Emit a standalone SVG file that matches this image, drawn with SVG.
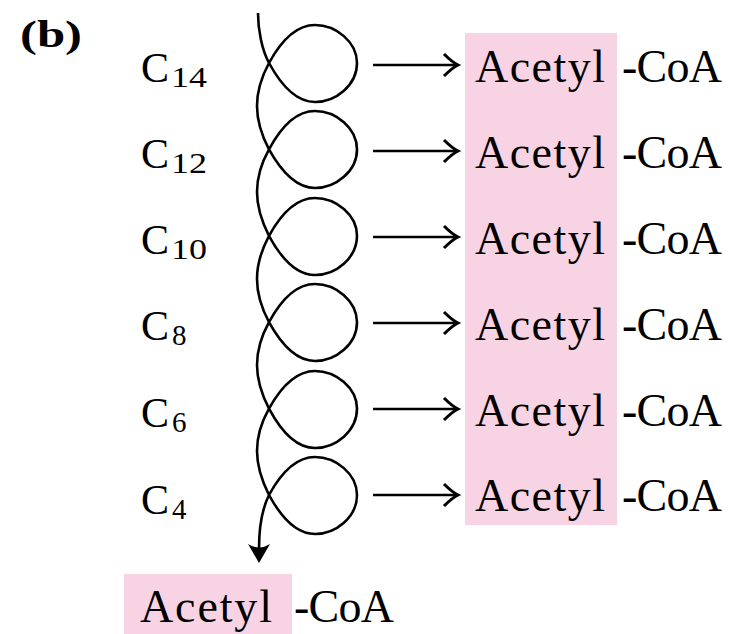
<svg xmlns="http://www.w3.org/2000/svg" width="741" height="634" viewBox="0 0 741 634">
<defs>
<style>
.t{font-family:"Liberation Serif","DejaVu Serif",serif;fill:#000}
.big{font-size:46px}
.c{font-size:42px}
.sub{font-size:29px}
.hl{fill:#f8d3e4}
.ln{fill:none;stroke:#000;stroke-width:2.6}
</style>
<marker id="ah" markerUnits="userSpaceOnUse" markerWidth="20" markerHeight="30" viewBox="-16 -13 20 26" refX="0" refY="0" orient="auto">
<path d="M-14,-11 Q-6,-3 0,0 Q-6,3 -14,11" fill="none" stroke="#000" stroke-width="3"/>
</marker>
</defs>
<rect width="741" height="634" fill="#fff"/>
<g id="highlights">
<rect class="hl" x="465" y="33" width="152" height="492"/>
<rect class="hl" x="124" y="574" width="168" height="60"/>
</g>
<g id="label-b"><text class="t" x="20" y="47" font-size="37" font-weight="bold" textLength="62" lengthAdjust="spacingAndGlyphs">(b)</text></g>
<g id="C14"><text class="t c" x="141" y="82">C</text><text class="t sub" x="171" y="87" textLength="36" lengthAdjust="spacingAndGlyphs">14</text></g>
<g id="C12"><text class="t c" x="141" y="168">C</text><text class="t sub" x="171" y="173" textLength="36" lengthAdjust="spacingAndGlyphs">12</text></g>
<g id="C10"><text class="t c" x="141" y="254">C</text><text class="t sub" x="171" y="259" textLength="36" lengthAdjust="spacingAndGlyphs">10</text></g>
<g id="C8"><text class="t c" x="141" y="340">C</text><text class="t sub" x="172" y="345">8</text></g>
<g id="C6"><text class="t c" x="141" y="427">C</text><text class="t sub" x="172" y="432">6</text></g>
<g id="C4"><text class="t c" x="141" y="514">C</text><text class="t sub" x="172" y="519">4</text></g>
<g id="acetyl1"><text class="t big" x="475" y="82" textLength="130" lengthAdjust="spacing">Acetyl</text><text class="t big" x="622" y="82" textLength="100" lengthAdjust="spacing">-CoA</text></g>
<g id="acetyl2"><text class="t big" x="475" y="168" textLength="130" lengthAdjust="spacing">Acetyl</text><text class="t big" x="622" y="168" textLength="100" lengthAdjust="spacing">-CoA</text></g>
<g id="acetyl3"><text class="t big" x="475" y="254" textLength="130" lengthAdjust="spacing">Acetyl</text><text class="t big" x="622" y="254" textLength="100" lengthAdjust="spacing">-CoA</text></g>
<g id="acetyl4"><text class="t big" x="475" y="340" textLength="130" lengthAdjust="spacing">Acetyl</text><text class="t big" x="622" y="340" textLength="100" lengthAdjust="spacing">-CoA</text></g>
<g id="acetyl5"><text class="t big" x="475" y="426" textLength="130" lengthAdjust="spacing">Acetyl</text><text class="t big" x="622" y="426" textLength="100" lengthAdjust="spacing">-CoA</text></g>
<g id="acetyl6"><text class="t big" x="475" y="511" textLength="130" lengthAdjust="spacing">Acetyl</text><text class="t big" x="622" y="511" textLength="100" lengthAdjust="spacing">-CoA</text></g>
<g id="acetyl-bottom"><text class="t big" x="140" y="622" textLength="132" lengthAdjust="spacing">Acetyl</text><text class="t big" x="294" y="622" textLength="100" lengthAdjust="spacing">-CoA</text></g>
<g id="connectors">
<line class="ln" x1="373" y1="65" x2="458" y2="65" marker-end="url(#ah)"/>
<line class="ln" x1="373" y1="151" x2="458" y2="151" marker-end="url(#ah)"/>
<line class="ln" x1="373" y1="237" x2="458" y2="237" marker-end="url(#ah)"/>
<line class="ln" x1="373" y1="323" x2="458" y2="323" marker-end="url(#ah)"/>
<line class="ln" x1="373" y1="409" x2="458" y2="409" marker-end="url(#ah)"/>
<line class="ln" x1="373" y1="495" x2="458" y2="495" marker-end="url(#ah)"/>
<path class="ln" d="M258,13 C258,30 262,50 269,63
C281,85 296,102 315,102 C336,102 357,85 357,63 C357,42 336,25 315,25 C296,25 281,41 269,63
C262,76 257,91 257,106 C257,121 262,136 269,149.4
C281,171 296,188 315,188 C336,188 357,171 357,149.4 C357,128 336,111 315,111 C296,111 281,127 269,149.4
C262,162 257,177 257,192 C257,207 262,222 269,235.8
C281,258 296,275 315,275 C336,275 357,258 357,235.8 C357,215 336,198 315,198 C296,198 281,214 269,235.8
C262,249 257,264 257,279 C257,294 262,309 269,322.2
C281,344 296,361 315,361 C336,361 357,344 357,322.2 C357,301 336,284 315,284 C296,284 281,300 269,322.2
C262,335 257,350 257,365 C257,380 262,395 269,408.6
C281,431 296,448 315,448 C336,448 357,431 357,408.6 C357,388 336,371 315,371 C296,371 281,387 269,408.6
C262,421 257,436 257,451 C257,466 262,481 269,495
C281,517 296,534 315,534 C336,534 357,517 357,495 C357,474 336,457 315,457 C296,457 281,473 269,495
C263,507 259,525 259,549"/>
<path d="M259,563 L248,544 Q259,551 270,544 Z" fill="#000"/>
</g>
</svg>
